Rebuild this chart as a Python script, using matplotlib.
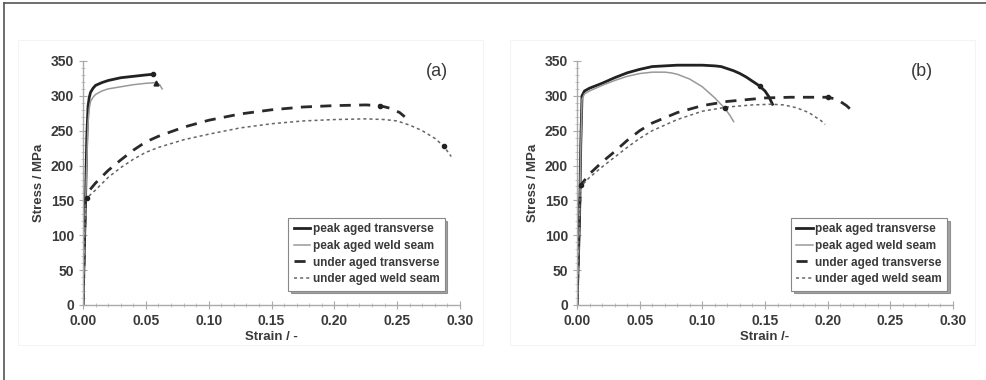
import matplotlib
matplotlib.use("Agg")
import matplotlib.pyplot as plt
from matplotlib.lines import Line2D
from matplotlib.patches import Rectangle
import matplotlib.ticker as mticker

# ---------------- data (a) ----------------
a_pt_strain = [0.0, 0.002, 0.003, 0.004, 0.005, 0.006, 0.008, 0.01, 0.015, 0.02, 0.03, 0.04, 0.05, 0.056]
a_pt_stress = [0, 150, 240, 285, 298, 305, 311, 315, 319, 322, 326, 328, 330, 331]
a_pw_strain = [0.0, 0.002, 0.004, 0.005, 0.006, 0.008, 0.01, 0.015, 0.02, 0.03, 0.04, 0.05, 0.058, 0.061, 0.063]
a_pw_stress = [0, 145, 260, 282, 292, 298, 302, 307, 310, 313, 316, 318, 319, 316, 310]
a_ut_strain = [0.0, 0.002, 0.004, 0.01, 0.02, 0.03, 0.04, 0.05, 0.06, 0.08, 0.10, 0.125, 0.15, 0.175, 0.20, 0.225, 0.236, 0.245, 0.252, 0.256]
a_ut_stress = [0, 150, 162, 175, 193, 208, 222, 234, 242, 255, 265, 274, 280, 284, 286, 287, 286, 282, 276, 270]
a_uw_strain = [0.0, 0.002, 0.004, 0.01, 0.02, 0.03, 0.04, 0.05, 0.06, 0.08, 0.10, 0.125, 0.15, 0.175, 0.20, 0.225, 0.24, 0.25, 0.26, 0.27, 0.28, 0.287, 0.293]
a_uw_stress = [0, 148, 155, 165, 183, 197, 209, 219, 226, 237, 245, 254, 260, 264, 266, 267, 266, 264, 258, 250, 239, 228, 213]
a_markers_x = [0.056, 0.236, 0.287, 0.003]
a_markers_y = [331, 285, 228, 153]
a_tri_x = [0.058]
a_tri_y = [318]

# ---------------- data (b) ----------------
b_pt_strain = [0.0, 0.002, 0.003, 0.004, 0.006, 0.01, 0.02, 0.03, 0.04, 0.05, 0.06, 0.07, 0.08, 0.09, 0.10, 0.11, 0.115, 0.12, 0.125, 0.13, 0.135, 0.14, 0.145, 0.15, 0.153, 0.156]
b_pt_stress = [0, 120, 230, 300, 307, 311, 318, 326, 333, 338, 342, 343, 344, 344, 344, 343, 342, 339, 336, 332, 327, 321, 315, 307, 299, 288]
b_pw_strain = [0.0, 0.002, 0.003, 0.004, 0.006, 0.01, 0.02, 0.03, 0.04, 0.05, 0.06, 0.07, 0.075, 0.08, 0.09, 0.10, 0.11, 0.118, 0.122, 0.125]
b_pw_stress = [0, 118, 225, 295, 303, 307, 315, 322, 328, 332, 334, 334, 333, 331, 324, 313, 297, 282, 272, 263]
b_ut_strain = [0.0, 0.002, 0.003, 0.01, 0.02, 0.03, 0.04, 0.05, 0.06, 0.08, 0.10, 0.12, 0.15, 0.17, 0.20, 0.205, 0.21, 0.215, 0.218]
b_ut_stress = [0, 140, 172, 188, 205, 220, 236, 250, 261, 276, 286, 292, 297, 298, 298, 296, 292, 286, 281]
b_uw_strain = [0.0, 0.002, 0.003, 0.01, 0.02, 0.03, 0.04, 0.05, 0.06, 0.08, 0.10, 0.12, 0.14, 0.155, 0.165, 0.175, 0.185, 0.19, 0.195, 0.198]
b_uw_stress = [0, 140, 170, 183, 198, 212, 226, 239, 250, 266, 278, 284, 287, 288, 287, 283, 276, 270, 264, 259]
b_markers_x = [0.146, 0.118, 0.200, 0.003]
b_markers_y = [314, 282, 298, 172]
b_tri_x = []
b_tri_y = []

labels = ["peak aged transverse", "peak aged weld seam",
          "under aged transverse", "under aged weld seam"]
xticks = [0.00, 0.05, 0.10, 0.15, 0.20, 0.25, 0.30]
yticks = [0, 50, 100, 150, 200, 250, 300, 350]

plt.rcParams['font.family'] = ['Liberation Sans', 'DejaVu Sans']
TXT = '#3a3a3a'

fig = plt.figure(figsize=(9.86, 3.8), dpi=100)

# outer frame (top and left)
fig.add_artist(Line2D([4/986, 4/986], [0, 1 - 3/380], transform=fig.transFigure, color='#555555', lw=1.2))
fig.add_artist(Line2D([4/986, 1.01], [1 - 3/380, 1 - 3/380], transform=fig.transFigure, color='#555555', lw=1.2))
# faint chart-area boxes
for x0 in (18, 510):
    fig.add_artist(Rectangle((x0/986, 35/380), 465/986, 305/380, transform=fig.transFigure,
                             fill=False, ec='#f4f4f4', lw=0.8))

styles = [dict(color='#222222', lw=2.0, ls='-'),
          dict(color='#999999', lw=1.1, ls='-'),
          dict(color='#2a2a2a', lw=2.0, ls=(0, (4, 3))),
          dict(color='#666666', lw=1.1, ls=(0, (2, 2)))]


def setup(ax, tag, datasets, mx, my, tx, ty, leg_anchor, tag_x):
    for (sx, sy), st, lab in zip(datasets, styles, labels):
        ax.plot(sx, sy, label=lab, **st)
    ax.plot(mx, my, ls='none', marker='o', ms=3, color='#222222')
    ax.plot(tx, ty, ls='none', marker='^', ms=3.5, color='#222222')
    ax.set_xlim(0, 0.30)
    ax.set_ylim(0, 350)
    ax.set_xticks(xticks)
    ax.set_yticks(yticks)
    ax.xaxis.set_major_formatter(mticker.FormatStrFormatter('%.2f'))
    ax.xaxis.set_minor_locator(mticker.MultipleLocator(0.01))
    ax.yaxis.set_minor_locator(mticker.MultipleLocator(10))
    for s in ('top', 'right'):
        ax.spines[s].set_visible(False)
    for s in ('left', 'bottom'):
        ax.spines[s].set_color('#aaaaaa')
        ax.spines[s].set_linewidth(1.0)
    ax.tick_params(which='major', direction='inout', length=6, color='#aaaaaa', labelsize=10,
                   labelcolor=TXT)
    ax.tick_params(which='minor', direction='inout', length=3, color='#bbbbbb')
    for lab in ax.get_xticklabels() + ax.get_yticklabels():
        lab.set_fontweight('bold')
    ax.set_ylabel('Stress / MPa', fontsize=9.5, fontweight='bold', color=TXT, labelpad=4)
    ax.set_xlabel('Strain / -' if tag == '(a)' else 'Strain /-', fontsize=9.5, fontweight='bold',
                  color=TXT, labelpad=2)
    ax.text(tag_x, 0.955, tag, transform=ax.transAxes, fontsize=13, color=TXT,
            ha='center', va='center')
    leg = ax.legend(loc='lower right', bbox_to_anchor=leg_anchor, frameon=True, fancybox=False,
                    shadow=True, handlelength=1.4, handletextpad=0.2, borderpad=0.45,
                    labelspacing=0.4, prop={'weight': 'bold', 'size': 8.5})
    leg.get_frame().set_edgecolor('#888888')
    leg.get_frame().set_linewidth(0.8)
    for t in leg.get_texts():
        t.set_color(TXT)


ax1 = fig.add_axes([83/986, 75/380, 377/986, 244/380])
setup(ax1, '(a)',
      [(a_pt_strain, a_pt_stress), (a_pw_strain, a_pw_stress),
       (a_ut_strain, a_ut_stress), (a_uw_strain, a_uw_stress)],
      a_markers_x, a_markers_y, a_tri_x, a_tri_y, (0.975, 0.035), 0.94)

ax2 = fig.add_axes([577/986, 75/380, 376/986, 244/380])
setup(ax2, '(b)',
      [(b_pt_strain, b_pt_stress), (b_pw_strain, b_pw_stress),
       (b_ut_strain, b_ut_stress), (b_uw_strain, b_uw_stress)],
      b_markers_x, b_markers_y, b_tri_x, b_tri_y, (1.0, 0.035), 0.918)

fig.savefig('out.png', dpi=100)
